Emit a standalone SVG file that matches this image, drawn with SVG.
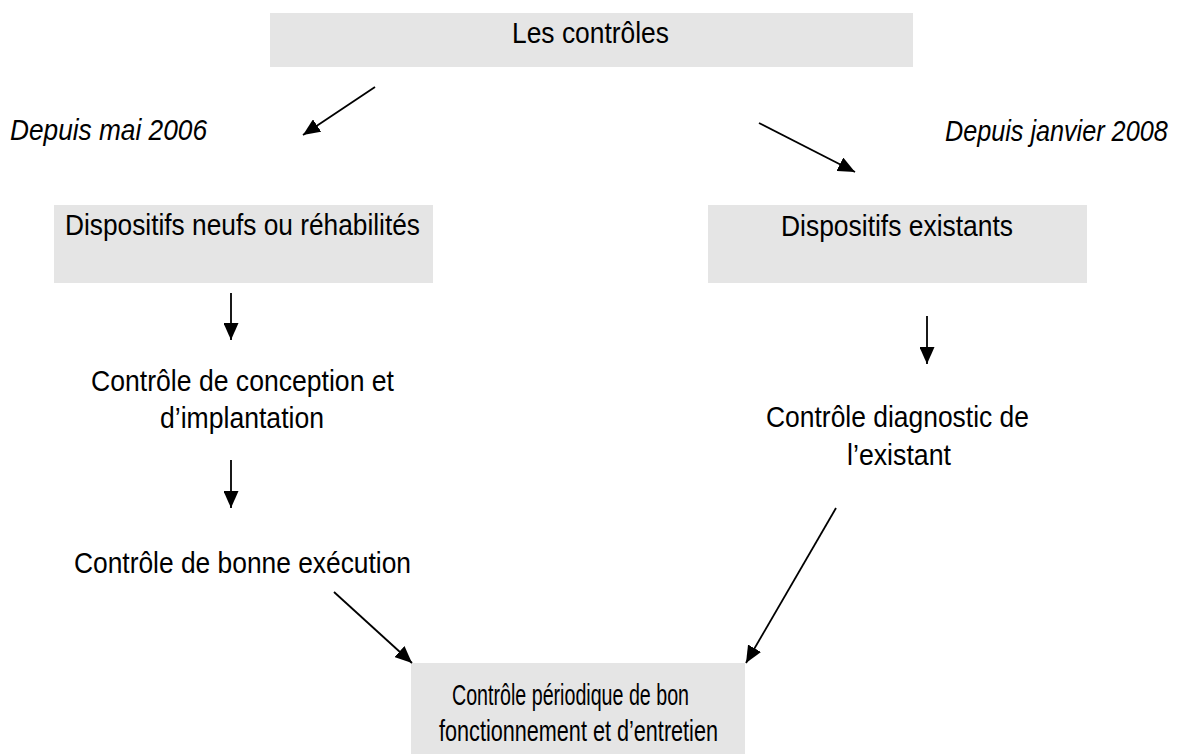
<svg xmlns="http://www.w3.org/2000/svg" width="1184" height="754" viewBox="0 0 1184 754">
  <style>
    .box { fill: #e5e5e5; stroke: none; }
    .t { font-family: "Liberation Sans", Arial, sans-serif; font-size: 30px; fill: #000; }
    .i { font-style: italic; }
    .c { stroke: #000; stroke-width: 1.8; fill: none; marker-end: url(#ah); }
  </style>
  <defs>
    <marker id="ah" markerUnits="userSpaceOnUse" markerWidth="17" markerHeight="15" viewBox="0 0 17 15" refX="17" refY="7.5" orient="auto">
      <path d="M0,0 L17,7.5 L0,15 z" fill="#000"/>
    </marker>
  </defs>
  <rect width="1184" height="754" fill="#fff"/>

  <g id="les-controles">
    <rect class="box" x="270" y="13" width="643" height="54"/>
    <text class="t" x="512" y="43" textLength="157" lengthAdjust="spacingAndGlyphs">Les contrôles</text>
  </g>

  <g id="depuis-mai">
    <text class="t i" x="10" y="140" textLength="197" lengthAdjust="spacingAndGlyphs">Depuis mai 2006</text>
  </g>

  <g id="depuis-janvier">
    <text class="t i" transform="translate(945 141) scale(1 1.19)" x="0" y="0" style="font-size:25.2px">Depuis janvier 2008</text>
  </g>

  <g id="dispositifs-neufs">
    <rect class="box" x="54" y="205" width="379" height="78"/>
    <text class="t" x="65" y="235" textLength="355" lengthAdjust="spacingAndGlyphs">Dispositifs neufs ou réhabilités</text>
  </g>

  <g id="dispositifs-existants">
    <rect class="box" x="708" y="205" width="379" height="78"/>
    <text class="t" x="781" y="236" textLength="232" lengthAdjust="spacingAndGlyphs">Dispositifs existants</text>
  </g>

  <g id="controle-conception">
    <text class="t" x="91" y="391" textLength="303" lengthAdjust="spacingAndGlyphs">Contrôle de conception et</text>
    <text class="t" x="160" y="428" textLength="164" lengthAdjust="spacingAndGlyphs">d’implantation</text>
  </g>

  <g id="controle-execution">
    <text class="t" x="74" y="573" textLength="337" lengthAdjust="spacingAndGlyphs">Contrôle de bonne exécution</text>
  </g>

  <g id="controle-diagnostic">
    <text class="t" x="766" y="427" textLength="263" lengthAdjust="spacingAndGlyphs">Contrôle diagnostic de</text>
    <text class="t" x="847" y="465" textLength="104" lengthAdjust="spacingAndGlyphs">l’existant</text>
  </g>

  <g id="controle-periodique">
    <rect class="box" x="411" y="663" width="334" height="91"/>
    <text class="t" x="452" y="705" textLength="237" lengthAdjust="spacingAndGlyphs">Contrôle périodique de bon</text>
    <text class="t" x="439" y="741" textLength="279" lengthAdjust="spacingAndGlyphs">fonctionnement et d’entretien</text>
  </g>

  <g id="connectors">
    <line class="c" x1="375" y1="87" x2="303" y2="135"/>
    <line class="c" x1="759" y1="123" x2="855" y2="172"/>
    <line class="c" x1="231" y1="293" x2="231" y2="340"/>
    <line class="c" x1="231" y1="460" x2="231" y2="508"/>
    <line class="c" x1="927" y1="316" x2="927" y2="364"/>
    <line class="c" x1="334" y1="592" x2="412" y2="663"/>
    <line class="c" x1="836" y1="508" x2="746" y2="663"/>
  </g>
</svg>
